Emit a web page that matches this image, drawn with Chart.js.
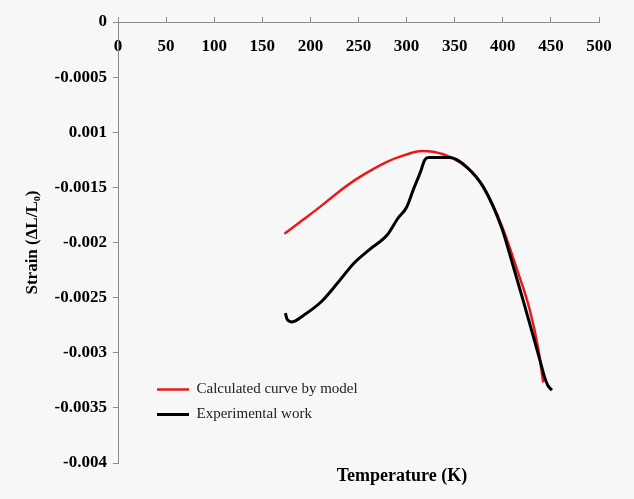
<!DOCTYPE html>
<html>
<head>
<meta charset="utf-8">
<script src="https://cdn.jsdelivr.net/npm/chart.js@4.4.1/dist/chart.umd.min.js"></script>
<style>
  body { margin: 0; background: #f7f7f7; }
  #wrap { width: 634px; height: 499px; }
</style>
</head>
<body>
<div id="wrap"><canvas id="myChart" width="634" height="499"></canvas></div>
<script>
// values
const tempModel = [173, 193, 211, 228, 247, 262, 279, 297, 316, 338, 363, 380, 399, 415, 428, 437, 442];
const strainModel = [-0.00192, -0.00179, -0.00167, -0.00155, -0.00143, -0.00135, -0.00127, -0.00121, -0.00117, -0.00120, -0.00132, -0.00150, -0.00185, -0.00225, -0.00261, -0.00297, -0.00327];

const tempExp = [174, 176, 181, 193, 211, 228, 245, 262, 280, 291, 300, 307, 314, 319, 323, 345, 363, 380, 399, 411, 421, 432, 439, 443, 447, 451];
const strainExp = [-0.00264, -0.00270, -0.00272, -0.00266, -0.00254, -0.00237, -0.00219, -0.00206, -0.00193, -0.00178, -0.00168, -0.00152, -0.00137, -0.00125, -0.00123, -0.00123, -0.00132, -0.00150, -0.00187, -0.00222, -0.00252, -0.00286, -0.00308, -0.00321, -0.00330, -0.00334];

// y tick labels from 0 downwards (the original shows "0.001" without minus)
const yTickLabels = ['0', '-0.0005', '0.001', '-0.0015', '-0.002', '-0.0025', '-0.003', '-0.0035', '-0.004'];

const serif = '"Liberation Serif", "Times New Roman", serif';

const toPoints = (xs, ys) => xs.map((x, i) => ({ x: x, y: ys[i] }));

// legend sits inside the plot, lower left
const legendPlace = {
    id: 'legendPlace',
    afterLayout(chart) {
        const lg = chart.legend;
        const ca = chart.chartArea;
        const w = lg.width, h = lg.height;
        lg.left = ca.left + 29;
        lg.right = lg.left + w;
        lg.top = ca.top + 350;
        lg.bottom = lg.top + h;
    }
};

// x title drawn below the plot
const xTitle = {
    id: 'xTitle',
    afterDraw(chart) {
        const ctx = chart.ctx;
        const ca = chart.chartArea;
        ctx.save();
        ctx.font = 'bold 18px ' + serif;
        ctx.fillStyle = '#000';
        ctx.textAlign = 'center';
        ctx.textBaseline = 'middle';
        ctx.fillText('Temperature (K)', ca.left + 284, ca.bottom + 13);
        ctx.restore();
    }
};

const ctx = document.getElementById('myChart').getContext('2d');
const myChart = new Chart(ctx, {
    type: 'line',
    data: {
        datasets: [{
            label: 'Calculated curve by model',
            data: toPoints(tempModel, strainModel),
            borderColor: '#e8191b',
            backgroundColor: '#e8191b',
            borderWidth: 2.5,
            pointRadius: 0,
            cubicInterpolationMode: 'monotone',
            order: 1
        }, {
            label: 'Experimental work',
            data: toPoints(tempExp, strainExp),
            borderColor: '#000',
            backgroundColor: '#000',
            borderWidth: 3,
            pointRadius: 0,
            cubicInterpolationMode: 'monotone',
            order: 0
        }]
    },
    options: {
        responsive: false,
        animation: false,
        layout: {
            padding: { left: 0, top: 22, right: 35, bottom: 36 }
        },
        scales: {
            x: {
                type: 'linear',
                position: { y: 0 },
                min: 0,
                max: 500,
                ticks: {
                    stepSize: 50,
                    color: '#000',
                    padding: 20,
                    font: { family: serif, size: 17, weight: 'bold' }
                },
                grid: {
                    drawOnChartArea: false,
                    drawTicks: true,
                    tickLength: -6,
                    color: '#8a8a8a'
                },
                border: { color: '#8a8a8a', width: 1 }
            },
            y: {
                min: -0.004,
                max: 0,
                ticks: {
                    stepSize: 0.0005,
                    color: '#000',
                    padding: 6,
                    font: { family: serif, size: 17, weight: 'bold' },
                    callback: function(value) {
                        return yTickLabels[Math.round(-value / 0.0005)];
                    }
                },
                grid: {
                    drawOnChartArea: false,
                    drawTicks: true,
                    tickLength: 5,
                    color: '#8a8a8a'
                },
                border: { color: '#8a8a8a', width: 1 },
                title: {
                    display: true,
                    text: 'Strain (ΔL/L₀)',
                    color: '#000',
                    padding: { top: 22, bottom: 0 },
                    font: { family: serif, size: 17, weight: 'bold' }
                },
                afterFit: function(scale) {
                    scale.width = 118;
                }
            }
        },
        plugins: {
            legend: {
                display: true,
                position: 'chartArea',
                align: 'start',
                labels: {
                    usePointStyle: true,
                    pointStyleWidth: 32,
                    pointStyle: 'line',
                    padding: 10,
                    color: '#222',
                    font: { family: serif, size: 15 },
                    sort: (a, b) => a.datasetIndex - b.datasetIndex
                }
            },
            tooltip: { enabled: false }
        }
    },
    plugins: [legendPlace, xTitle]
});
</script>
</body>
</html>
